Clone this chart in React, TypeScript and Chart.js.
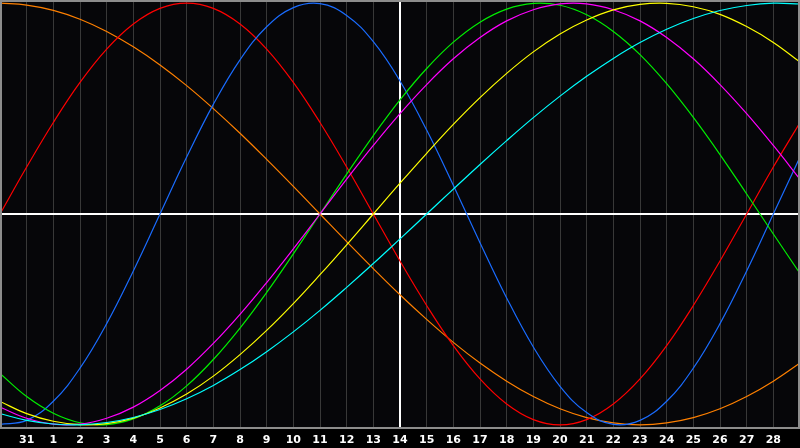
import { useEffect, useRef } from 'react';
import { Chart } from 'chart.js/auto';

// one column per day, Jan 30 .. Mar 1; today (14) is index 15
const dayLabels = ['', '31', '1', '2', '3', '4', '5', '6', '7', '8', '9', '10', '11', '12', '13', '14',
  '15', '16', '17', '18', '19', '20', '21', '22', '23', '24', '25', '26', '27', '28', ''];
const todayIndex = 15;

const physical = [-0.998, -0.979, -0.888, -0.731, -0.520, -0.270, 0, 0.270, 0.520, 0.731, 0.888, 0.979,
  0.998, 0.942, 0.817, 0.631, 0.398, 0.136, -0.136, -0.398, -0.631, -0.817, -0.942, -0.998, -0.979,
  -0.888, -0.731, -0.520, -0.270, 0, 0.270];
const emotional = [0, 0.223, 0.434, 0.624, 0.782, 0.901, 0.975, 1, 0.975, 0.901, 0.782, 0.624, 0.434,
  0.223, 0, -0.223, -0.434, -0.624, -0.782, -0.901, -0.975, -1, -0.975, -0.901, -0.782, -0.624, -0.434,
  -0.223, 0, 0.223, 0.434];
const intellectual = [-0.756, -0.866, -0.945, -0.990, -0.999, -0.972, -0.910, -0.815, -0.690, -0.541,
  -0.372, -0.189, 0, 0.189, 0.372, 0.541, 0.690, 0.815, 0.910, 0.972, 0.999, 0.990, 0.945, 0.866, 0.756,
  0.618, 0.458, 0.282, 0.095, -0.095, -0.282];
const intuitive = [-0.916, -0.969, -0.997, -0.997, -0.969, -0.916, -0.837, -0.736, -0.614, -0.476, -0.325,
  -0.165, 0, 0.165, 0.325, 0.476, 0.614, 0.736, 0.837, 0.916, 0.969, 0.997, 0.997, 0.969, 0.916, 0.837,
  0.736, 0.614, 0.476, 0.325, 0.165];
const aesthetic = [-0.889, -0.947, -0.983, -0.999, -0.994, -0.968, -0.920, -0.854, -0.769, -0.667, -0.552,
  -0.425, -0.288, -0.146, 0, 0.146, 0.288, 0.425, 0.552, 0.667, 0.769, 0.854, 0.920, 0.968, 0.994, 0.999,
  0.983, 0.947, 0.889, 0.814, 0.721];
const awareness = [1, 0.991, 0.966, 0.924, 0.866, 0.793, 0.707, 0.609, 0.5, 0.383, 0.259, 0.131, 0,
  -0.131, -0.259, -0.383, -0.5, -0.609, -0.707, -0.793, -0.866, -0.924, -0.966, -0.991, -1, -0.991,
  -0.966, -0.924, -0.866, -0.793, -0.707];
const spiritual = [-0.947, -0.979, -0.996, -1.0, -0.989, -0.965, -0.927, -0.876, -0.813, -0.738, -0.653,
  -0.559, -0.457, -0.348, -0.235, -0.118, 0, 0.118, 0.235, 0.348, 0.457, 0.559, 0.653, 0.738, 0.813,
  0.876, 0.927, 0.965, 0.989, 1.0, 0.996];

const series = [
  { label: 'Spiritual', data: spiritual, color: '#00ffff' },
  { label: 'Aesthetic', data: aesthetic, color: '#ffff00' },
  { label: 'Intuitive', data: intuitive, color: '#ff00ff' },
  { label: 'Intellectual', data: intellectual, color: '#00ee00' },
  { label: 'Physical', data: physical, color: '#1a6cff' },
  { label: 'Emotional', data: emotional, color: '#ff0000' },
  { label: 'Awareness', data: awareness, color: '#ff8000' },
];

const framePlugin = {
  id: 'frame',
  beforeDraw(chart: Chart) {
    const { ctx, chartArea: a, width, height } = chart;
    ctx.save();
    ctx.fillStyle = '#000000';
    ctx.fillRect(0, 0, width, height);
    ctx.fillStyle = '#060609';
    ctx.fillRect(a.left, a.top, a.right - a.left, a.bottom - a.top);
    ctx.restore();
  },
  afterDraw(chart: Chart) {
    const { ctx, chartArea: a } = chart;
    ctx.save();
    ctx.strokeStyle = '#8c8c8c';
    ctx.lineWidth = 2;
    ctx.strokeRect(a.left + 1, a.top + 1, a.right - a.left - 2, a.bottom - a.top - 1);
    ctx.restore();
  },
};

export default function App() {
  const canvasRef = useRef<HTMLCanvasElement>(null);
  const chartRef = useRef<Chart | null>(null);

  useEffect(() => {
    if (!canvasRef.current) return;
    chartRef.current?.destroy();
    chartRef.current = new Chart(canvasRef.current, {
      type: 'line',
      data: {
        labels: dayLabels,
        datasets: series.map((s) => ({
          label: s.label,
          data: s.data,
          borderColor: s.color,
          borderWidth: 1.2,
          pointRadius: 0,
          tension: 0.4,
          fill: false,
        })),
      },
      options: {
        animation: false,
        responsive: true,
        maintainAspectRatio: false,
        layout: { padding: 0 },
        plugins: { legend: { display: false }, tooltip: { enabled: false } },
        scales: {
          x: {
            offset: false,
            border: { display: false },
            grid: {
              drawTicks: false,
              color: (c: any) => (c.index === todayIndex ? '#ffffff'
                : c.index === 0 || c.index === dayLabels.length - 1 ? 'transparent' : '#383838'),
              lineWidth: (c: any) => (c.index === todayIndex ? 2 : 1),
            },
            ticks: {
              autoSkip: false,
              maxRotation: 0,
              padding: 6,
              color: '#ffffff',
              font: { family: 'DejaVu Sans', size: 11, weight: 'bold' },
            },
            afterFit: (scale: any) => {
              scale.height = 20;
              scale.paddingLeft = 0;
              scale.paddingRight = 0;
            },
          },
          y: {
            min: -1.015,
            max: 1.015,
            border: { display: false },
            grid: { drawTicks: false, color: '#ffffff', lineWidth: 2 },
            ticks: { display: false },
            afterBuildTicks: (scale: any) => { scale.ticks = [{ value: 0 }]; },
            afterFit: (scale: any) => {
              scale.width = 0;
              scale.paddingTop = 0;
              scale.paddingBottom = 0;
            },
          },
        },
      },
      plugins: [framePlugin],
    });
    return () => chartRef.current?.destroy();
  }, []);

  return (
    <div style={{ position: 'absolute', left: 0, top: 0, width: 800, height: 448, background: '#000' }}>
      <canvas ref={canvasRef} />
    </div>
  );
}
